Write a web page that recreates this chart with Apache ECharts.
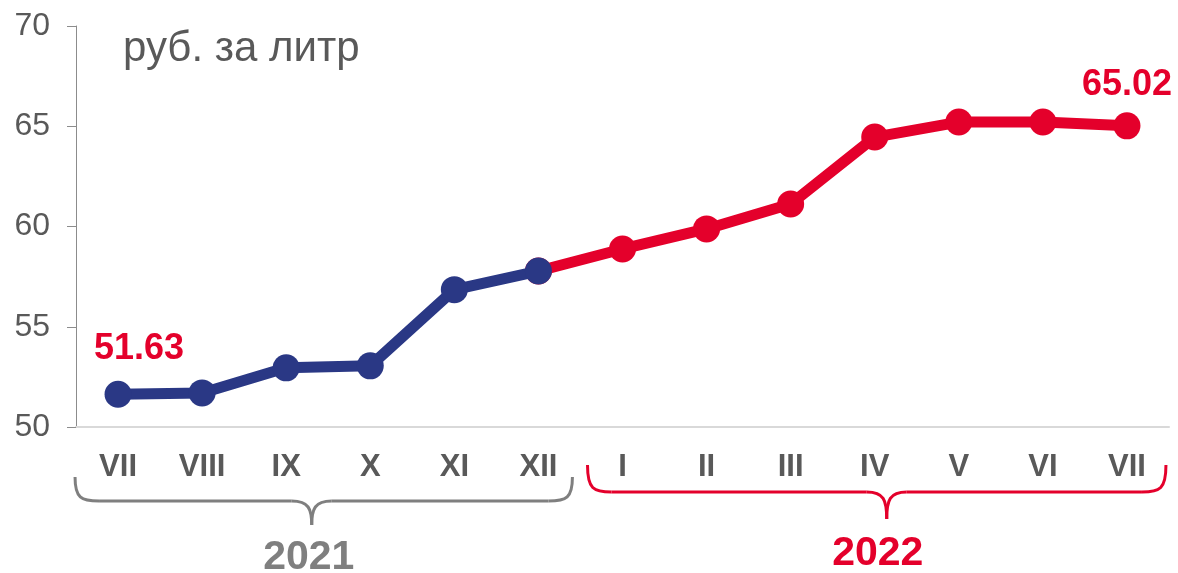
<!DOCTYPE html>
<html>
<head>
<meta charset="utf-8">
<script src="https://cdn.jsdelivr.net/npm/echarts@6/dist/echarts.min.js"></script>
<style>
html,body{margin:0;padding:0;background:#fff;}
#chart{width:1178px;height:573px;}
</style>
</head>
<body>
<div id="chart"></div>
<script>
var months = ['VII','VIII','IX','X','XI','XII','I','II','III','IV','V','VI','VII'];
var values2021 = [51.63, 51.70, 52.95, 53.05, 56.85, 57.78, null, null, null, null, null, null, null];
var values2022 = [null, null, null, null, null, 57.78, 58.88, 59.88, 61.12, 64.46, 65.21, 65.21, 65.02];
var yearLabels = ['2021', '2022'];
var yearRanges = [[0, 5], [6, 12]];
var unitLabel = 'руб. за литр';

var BLUE = '#2a3885';
var RED = '#e4002b';
var GRAY = '#7f7f7f';
var FONT = '"Liberation Sans", Arial, sans-serif';

var chart = echarts.init(document.getElementById('chart'));

function labelled(arr, idx, dist, dx) {
  return arr.map(function (v, i) {
    if (i === idx && v != null) {
      return {
        value: v,
        label: {
          show: true, position: 'top', distance: dist, offset: [dx, 0],
          color: RED, fontSize: 36, fontWeight: 'bold', fontFamily: FONT,
          formatter: function (p) { return p.value.toFixed(2); }
        }
      };
    }
    return v;
  });
}

var option = {
  animation: false,
  grid: { left: 76, right: 9, top: 26, bottom: 146 },
  xAxis: {
    type: 'category',
    data: months,
    boundaryGap: true,
    axisLine: { show: true, lineStyle: { color: '#d9d9d9', width: 2 } },
    axisTick: { show: false },
    axisLabel: { color: '#595959', fontSize: 31, fontWeight: 'bold', fontFamily: FONT, margin: 25, interval: 0 },
    splitLine: { show: false }
  },
  yAxis: {
    type: 'value',
    min: 50, max: 70, interval: 5,
    axisLine: { show: true, lineStyle: { color: '#8c8c8c', width: 1 } },
    axisTick: { show: true, length: 9, lineStyle: { color: '#8c8c8c' } },
    axisLabel: { color: '#595959', fontSize: 32, fontFamily: FONT, margin: 26 },
    splitLine: { show: false }
  },
  series: [
    {
      type: 'line', data: labelled(values2022, 12, 9, 0),
      lineStyle: { color: RED, width: 11 },
      itemStyle: { color: RED },
      symbol: 'circle', symbolSize: 27, showAllSymbol: true,
      connectNulls: false, z: 2
    },
    {
      type: 'line', data: labelled(values2021, 0, 14, 21),
      lineStyle: { color: BLUE, width: 11 },
      itemStyle: { color: BLUE },
      symbol: 'circle', symbolSize: 27, showAllSymbol: true,
      connectNulls: false, z: 3
    }
  ]
};
chart.setOption(option);

function braceParts(x1, x2, cx, top, hy, py, color) {
  var r = 24, pr = 12;
  var st = { stroke: color, lineWidth: 3, fill: null };
  return [
    { type: 'bezierCurve', shape: { x1: x1, y1: top, cpx1: x1, cpy1: hy - 3, cpx2: x1 + 6, cpy2: hy, x2: x1 + r, y2: hy }, style: st },
    { type: 'line', shape: { x1: x1 + r, y1: hy, x2: cx - pr - 8, y2: hy }, style: st },
    { type: 'bezierCurve', shape: { x1: cx - pr - 8, y1: hy, cpx1: cx - 3, cpy1: hy, cpx2: cx, cpy2: hy + 8, x2: cx, y2: py }, style: st },
    { type: 'bezierCurve', shape: { x1: cx, y1: py, cpx1: cx, cpy1: hy + 8, cpx2: cx + 3, cpy2: hy, x2: cx + pr + 8, y2: hy }, style: st },
    { type: 'line', shape: { x1: cx + pr + 8, y1: hy, x2: x2 - r, y2: hy }, style: st },
    { type: 'bezierCurve', shape: { x1: x2 - r, y1: hy, cpx1: x2 - 6, cpy1: hy, cpx2: x2, cpy2: hy - 3, x2: x2, y2: top }, style: st }
  ];
}

var px = months.map(function (m, i) { return chart.convertToPixel({ xAxisIndex: 0 }, i); });
var b1 = { x1: px[yearRanges[0][0]] - 43, x2: px[yearRanges[0][1]] + 34 };
var b2 = { x1: px[yearRanges[1][0]] - 35, x2: px[yearRanges[1][1]] + 39 };
var c1 = (b1.x1 + b1.x2) / 2 - 12;
var c2 = (b2.x1 + b2.x2) / 2 + 10;

var graphics = [
  {
    type: 'text', x: 123, y: 49,
    style: { text: unitLabel, fill: '#595959', font: '42px ' + FONT, textVerticalAlign: 'middle' }
  },
  {
    type: 'text', x: c1 - 3, y: 558,
    style: { text: yearLabels[0], fill: GRAY, font: 'bold 41px ' + FONT, textAlign: 'center', textVerticalAlign: 'middle' }
  },
  {
    type: 'text', x: c2 - 9, y: 554,
    style: { text: yearLabels[1], fill: RED, font: 'bold 41px ' + FONT, textAlign: 'center', textVerticalAlign: 'middle' }
  }
].concat(braceParts(b1.x1, b1.x2, c1, 477, 501, 525, GRAY))
 .concat(braceParts(b2.x1, b2.x2, c2, 465, 492, 519, RED));

chart.setOption({ graphic: graphics });
</script>
</body>
</html>
